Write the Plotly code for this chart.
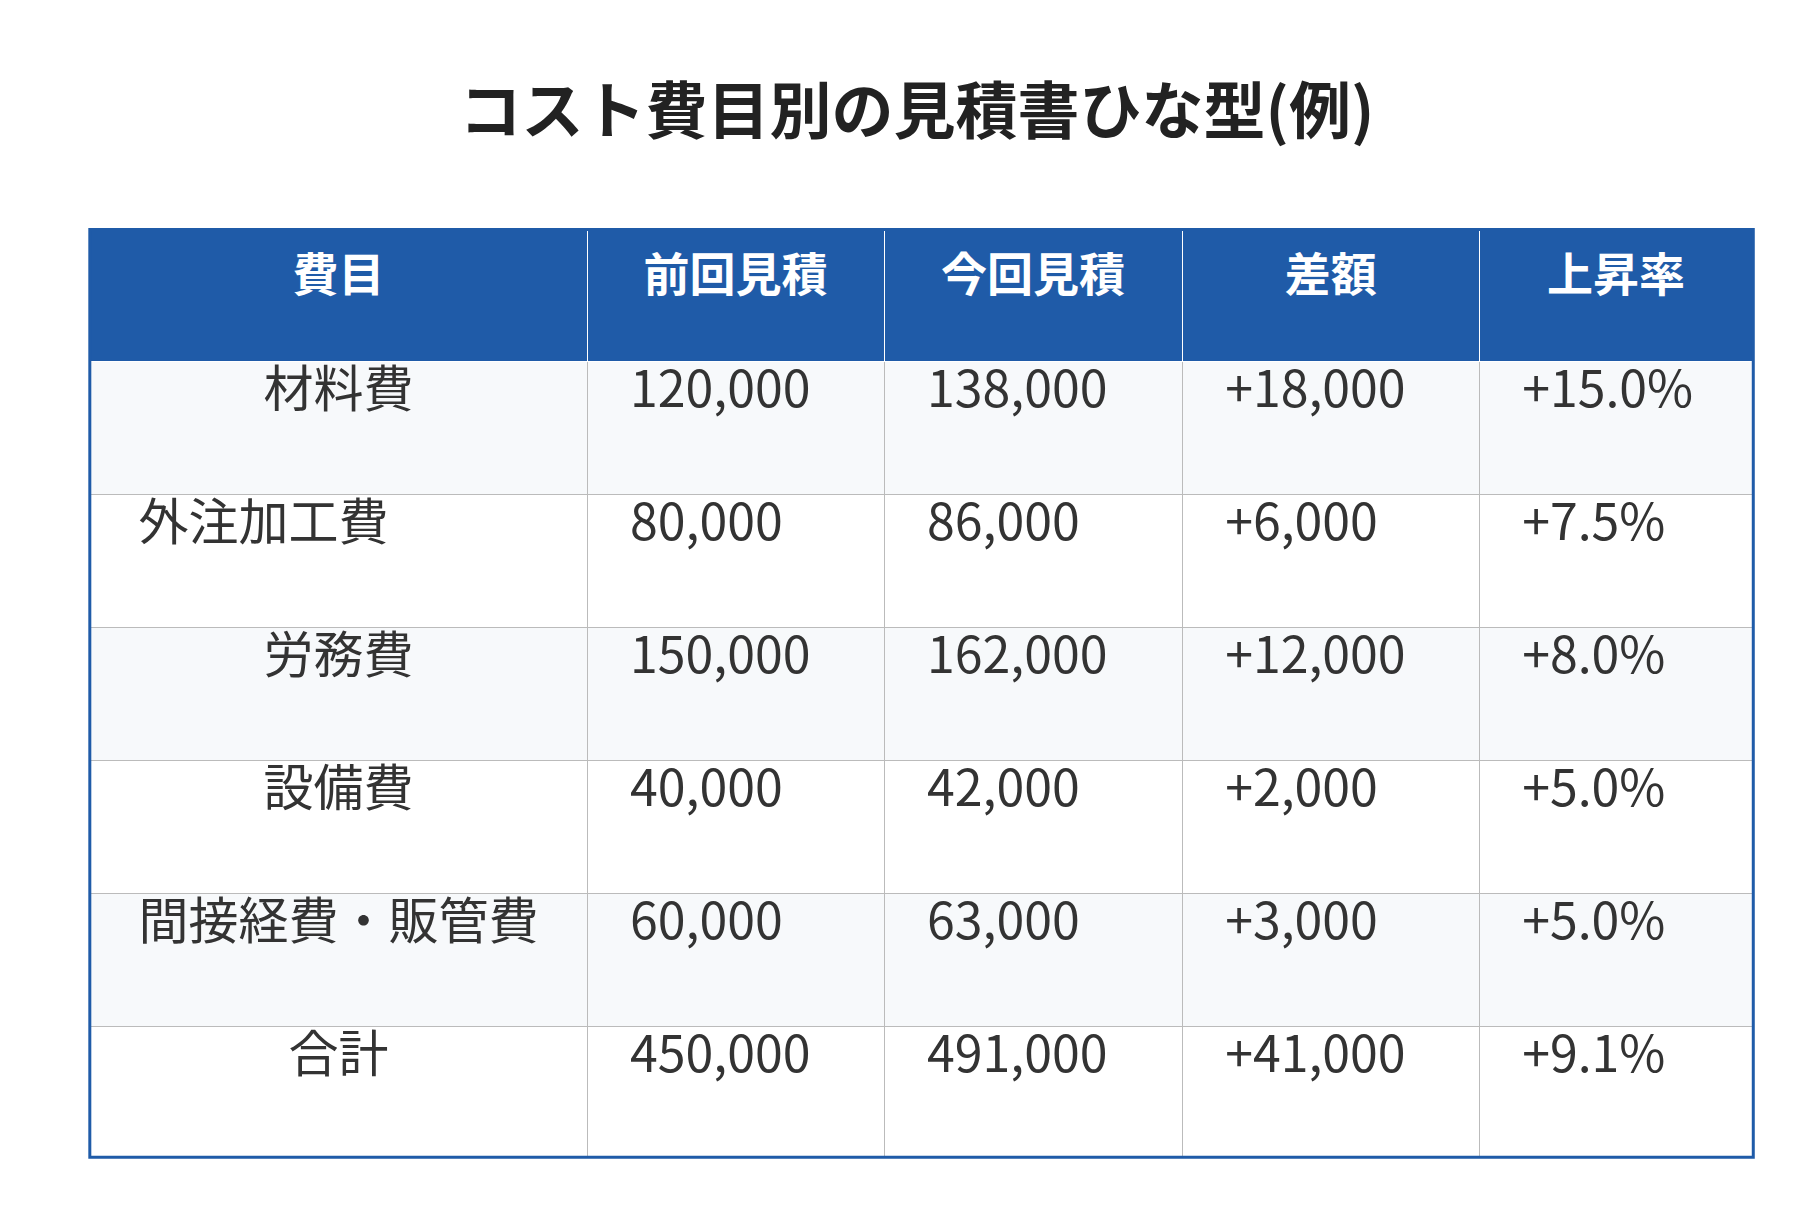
import plotly.graph_objects as go

headers = ["費目", "前回見積", "今回見積", "差額", "上昇率"]
items = ["材料費", "外注加工費", "労務費", "設備費", "間接経費・販管費", "合計"]
prev = ["120,000", "80,000", "150,000", "40,000", "60,000", "450,000"]
curr = ["138,000", "86,000", "162,000", "42,000", "63,000", "491,000"]
diff = ["+18,000", "+6,000", "+12,000", "+2,000", "+3,000", "+41,000"]
rate = ["+15.0%", "+7.5%", "+8.0%", "+5.0%", "+5.0%", "+9.1%"]

# 外注加工費 sits left of centre in the reference; nudge it with trailing ideographic spaces
first_col = [t + "\u3000\u3000\u3000" if t == "外注加工費" else t for t in items]
pad = "\u2002\u2009"
cols = [first_col] + [[pad + v for v in c] for c in (prev, curr, diff, rate)]

fills = ["#f7f9fb" if i % 2 == 0 else "#ffffff" for i in range(6)]

fig = go.Figure(go.Table(
    domain=dict(x=[0.045, 0.96], y=[0.061, 0.819]),
    columnwidth=[427, 255, 256, 255, 235],
    header=dict(
        values=["<b>%s</b>" % h for h in headers],
        fill_color="#1f5ba8",
        line=dict(color="#ffffff", width=1),
        font=dict(family="Noto Sans CJK JP", size=46, color="white"),
        align="center",
        height=132,
    ),
    cells=dict(
        values=cols,
        fill_color=[fills] * 5,
        line=dict(color="#bbbbbb", width=1),
        font=dict(family="Noto Sans CJK JP", size=50, color="#333333"),
        align=["center", "left", "left", "left", "left"],
        height=133,
    ),
))

fig.add_shape(type="rect", xref="paper", yref="paper",
              x0=0.045, x1=0.96, y0=0.061, y1=0.819,
              line=dict(color="#1f5ba8", width=3))

fig.update_layout(
    title=dict(text="<b>コスト費目別の見積書ひな型(例)</b>", x=0.5, y=0.915,
               xanchor="center", yanchor="middle",
               font=dict(family="Noto Sans CJK JP", size=62, color="#222222")),
    width=1818, height=1224,
    margin=dict(l=0, r=0, t=0, b=0),
    paper_bgcolor="white",
)

fig.write_html("out.html")
